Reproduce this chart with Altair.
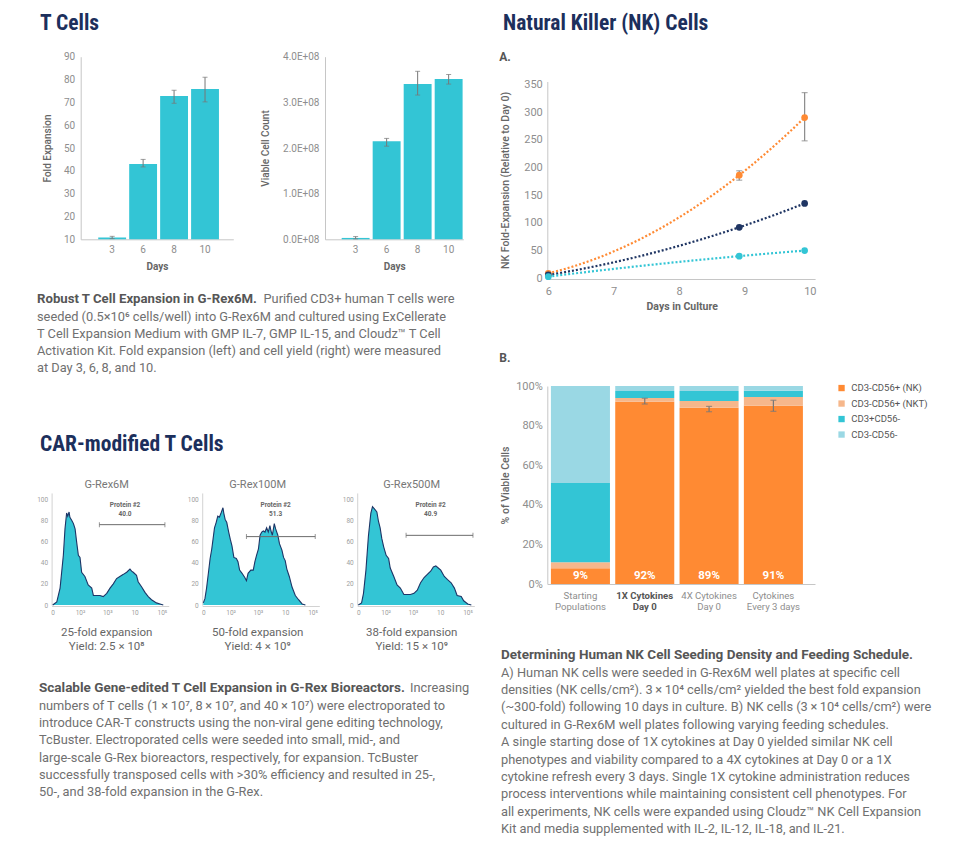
import altair as alt
import pandas as pd

W, H = 962, 833
FONT = "Roboto"
HEAD = "'Roboto Condensed', 'Liberation Sans Narrow', Roboto"

TEAL = "#33c5d5"
NAVY = "#1f3563"
HNAVY = "#1d3566"
ORANGE = "#ff8a33"
LORANGE = "#f6b78b"
LBLUE = "#9ad8e4"
TITLE_C = "#1c2f5c"
ERR = "#777777"
DOMAIN = "#c6c6c6"
LAB = "#8e8e8e"
AXT = "#666666"
CAP = "#707070"
CAPB = "#565656"
TS = "\u2009"

# ---------------- data ----------------
days = ["3", "6", "8", "10"]
fold = [10.8, 43.0, 72.8, 75.9]
fold_lo = [10.3, 41.7, 69.6, 70.2]
fold_hi = [11.3, 45.0, 75.3, 81.0]
cells = [0.03e8, 2.15e8, 3.40e8, 3.51e8]
cells_lo = [0.01e8, 2.04e8, 3.16e8, 3.40e8]
cells_hi = [0.06e8, 2.21e8, 3.68e8, 3.61e8]

hist_ticks = ["0", "10²", "10³", "10", "10⁵"]
h1_u = [0.00, 0.15, 0.27, 0.39, 0.45, 0.51, 0.55, 0.60, 0.63, 0.70, 0.76, 0.82, 0.88, 0.94,
        1.00, 1.06, 1.18, 1.30, 1.43, 1.49, 1.61, 1.73, 1.85, 1.98, 2.10, 2.22, 2.34, 2.46,
        2.59, 2.71, 2.83, 2.89, 2.95, 3.07, 3.13, 3.26, 3.38, 3.50, 3.62, 3.80, 3.93, 4.05]
h1_y = [0, 3, 16, 47, 72, 87, 84, 88, 83, 80, 77, 72, 59, 47, 45, 31, 27, 19, 16, 9, 9, 9, 8,
        11, 16, 20, 25, 27, 29, 31, 34, 32, 31, 28, 22, 17, 12, 8, 5, 2, 1, 0]
h2_u = [0, 0.06, 0.12, 0.19, 0.25, 0.31, 0.41, 0.47, 0.53, 0.59, 0.65, 0.72, 0.75, 0.80, 0.86,
        0.93, 0.99, 1.05, 1.12, 1.21, 1.27, 1.33, 1.42, 1.52, 1.58, 1.64, 1.74, 1.83, 1.89, 1.95,
        2.02, 2.08, 2.14, 2.20, 2.26, 2.32, 2.38, 2.44, 2.48, 2.53, 2.60, 2.65, 2.73, 2.79, 2.88,
        2.94, 3.00, 3.06, 3.15, 3.25, 3.37, 3.49, 3.62, 3.74]
h2_y = [2, 6, 16, 31, 44, 53, 73, 78, 84, 83, 87, 92, 87, 81, 78, 69, 62, 56, 45, 44, 41, 33, 30,
        26, 23, 30, 33, 33, 41, 47, 53, 66, 69, 70, 69, 73, 69, 75, 70, 66, 77, 72, 66, 58, 52,
        45, 42, 34, 27, 17, 9, 5, 1, 0]
h3_u = [0, 0.12, 0.19, 0.28, 0.37, 0.46, 0.52, 0.59, 0.68, 0.74, 0.80, 0.86, 0.93, 1.02, 1.11,
        1.17, 1.30, 1.42, 1.54, 1.67, 1.79, 1.91, 2.04, 2.16, 2.28, 2.41, 2.53, 2.65, 2.75, 2.84,
        2.93, 3.02, 3.15, 3.27, 3.40, 3.52, 3.62, 3.77, 3.86, 4.01, 4.14]
h3_y = [0, 2, 11, 33, 65, 87, 93, 91, 88, 79, 73, 63, 55, 47, 44, 35, 27, 19, 16, 10, 10, 10,
        11, 14, 21, 26, 29, 32, 36, 37, 35, 33, 27, 24, 21, 16, 9, 8, 4, 1, 0]
gates = [(1.71, 4.11, 76.0), (1.58, 4.10, 64.7), (1.75, 4.20, 65.9)]
gate_pct = ["40.0", "51.3", "40.9"]
reactors = ["G-Rex6M", "G-Rex100M", "G-Rex500M"]
fold_caps = ["25-fold expansion", "50-fold expansion", "38-fold expansion"]
yield_caps = ["Yield: 2.5 × 10⁸", "Yield: 4 × 10⁹", "Yield: 15 × 10⁹"]

nk_series = ["30,000 NK cells/cm²", "60,000 NK cells/cm²", "120,000 NK cells/cm²"]
nk_days = [6, 8.92, 9.92]
nk_30 = [9, 186, 290]
nk_60 = [6, 92, 135]
nk_120 = [3, 40, 50]
nk_err_days = [8.92, 9.92]
nk_err_lo = [177, 248]
nk_err_hi = [194, 335]

feed = ["Starting|Populations", "1X Cytokines|Day 0", "4X Cytokines|Day 0", "Cytokines|Every 3 days"]
pops = ["CD3-CD56+ (NK)", "CD3-CD56+ (NKT)", "CD3+CD56-", "CD3-CD56-"]
pop_nk = [8, 92, 89, 90]
pop_nkt = [3, 2, 3.4, 4.5]
pop_cd3 = [40, 3.5, 5.1, 3.1]
pop_dn = [49, 2.5, 2.5, 2.4]
feed_pct = ["9%", "92%", "89%", "91%"]
feed_err_lo = [90.9, 87.0, 87.2]
feed_err_hi = [93.8, 89.7, 92.8]

cap1_bold = "Robust T Cell Expansion in G-Rex6M."
cap1_first = "Purified CD3+ human T cells were"
cap1_rest = [
    "seeded (0.5×10⁶ cells/well) into G-Rex6M and cultured using ExCellerate",
    "T Cell Expansion Medium with GMP IL-7, GMP IL-15, and Cloudz™ T Cell",
    "Activation Kit. Fold expansion (left) and cell yield (right) were measured",
    "at Day 3, 6, 8, and 10.",
]
cap2_bold = "Scalable Gene-edited T Cell Expansion in G-Rex Bioreactors."
cap2_first = "Increasing"
cap2_rest = [
    f"numbers of T cells (1{TS}×{TS}10⁷, 8{TS}×{TS}10⁷, and 40{TS}×{TS}10⁷) were electroporated to",
    "introduce CAR-T constructs using the non-viral gene editing technology,",
    "TcBuster. Electroporated cells were seeded into small, mid-, and",
    "large-scale G-Rex bioreactors, respectively, for expansion. TcBuster",
    "successfully transposed cells with >30% efficiency and resulted in 25-,",
    "50-, and 38-fold expansion in the G-Rex.",
]
cap3_bold = "Determining Human NK Cell Seeding Density and Feeding Schedule."
cap3_rest = [
    "A) Human NK cells were seeded in G-Rex6M well plates at specific cell",
    f"densities (NK cells/cm²). 3{TS}×{TS}10⁴ cells/cm² yielded the best fold expansion",
    f"(~300-fold) following 10 days in culture. B) NK cells (3{TS}×{TS}10⁴ cells/cm²) were",
    "cultured in G-Rex6M well plates following varying feeding schedules.",
    "A single starting dose of 1X cytokines at Day 0 yielded similar NK cell",
    "phenotypes and viability compared to a 4X cytokines at Day 0 or a 1X",
    "cytokine refresh every 3 days. Single 1X cytokine administration reduces",
    "process interventions while maintaining consistent cell phenotypes. For",
    "all experiments, NK cells were expanded using Cloudz™ NK Cell Expansion",
    "Kit and media supplemented with IL-2, IL-12, IL-18, and IL-21.",
]

BODY = 12.8
BOLD = 13.5


# ---------------- helpers ----------------
def axis(orient, offset, **kw):
    d = dict(orient=orient, offset=offset, grid=False, ticks=False, tickSize=0,
             domainColor=DOMAIN, domainWidth=1, labelColor=LAB, labelFont=FONT,
             labelFontSize=10, labelFlush=False, labelOverlap=False,
             titleFont=FONT, titleColor=AXT, titleFontSize=10, titleFontWeight=500)
    d.update(kw)
    return alt.Axis(**d)


def text(t, x, y, size=BODY, weight="normal", color=CAP, font=FONT,
         align="left", baseline="alphabetic", lh=None):
    kw = dict(align=align, baseline=baseline, font=font, fontSize=size,
              fontWeight=weight, color=color)
    if lh is not None:
        kw["lineHeight"] = lh
    return alt.Chart(alt.Data(values=[{"k": 1}])).mark_text(**kw).encode(
        x=alt.value(x), y=alt.value(y), text=alt.value(t))


def tcell_bar(vals, lo, hi, xr, po, al, ydom, yr, ya):
    df = pd.DataFrame({"day": days, "v": vals, "lo": lo, "hi": hi})
    xs = alt.Scale(domain=days, range=xr, paddingInner=0.1, paddingOuter=po, align=al)
    ys = alt.Scale(domain=ydom, range=yr, nice=False, zero=False)
    xa = axis("bottom", yr[0] - H, title="Days", labelAngle=0, labelPadding=5,
              titleY=27.4, titleBaseline="middle", titleFontWeight="bold")
    X = alt.X("day:N", scale=xs, axis=xa)
    base = alt.Chart(df)
    bars = base.mark_bar(color=TEAL).encode(
        x=X, y=alt.Y("v:Q", scale=ys, axis=ya), y2=alt.datum(ydom[0]))
    err = base.mark_rule(color=ERR, strokeWidth=1).encode(
        x=X, y=alt.Y("lo:Q", scale=ys, axis=ya), y2="hi:Q")
    clo = base.mark_tick(color=ERR, size=5, thickness=1).encode(
        x=X, y=alt.Y("lo:Q", scale=ys, axis=ya))
    chi = base.mark_tick(color=ERR, size=5, thickness=1).encode(
        x=X, y=alt.Y("hi:Q", scale=ys, axis=ya))
    return alt.layer(bars, err, clo, chi)


K = 27.3


def hist(u, y, x0, gate, pct):
    xs = alt.Scale(domain=[-0.04, 4.25], range=[x0 - 0.04 * K, x0 + 4.25 * K], nice=False, zero=False)
    ys = alt.Scale(domain=[0, 106], range=[597, 597 - 106 * 1.057], nice=False)
    lab_expr = "[" + ",".join("'%s'" % s for s in hist_ticks) + "][datum.value]"
    xa = axis("bottom", -235, values=[0, 1, 2, 3, 4], labelExpr=lab_expr, labelFontSize=6.5,
              labelPadding=3, title=None, domainColor="#d2d2d2", labelColor="#a0a0a0")
    ya = axis("left", -(x0 - 0.04 * K), values=[0, 20, 40, 60, 80, 100], labelFontSize=6.5,
              labelPadding=4, title=None, domainColor="#d2d2d2", labelColor="#a0a0a0")
    df = pd.DataFrame({"u": u, "y": y})
    area = alt.Chart(df).mark_area(color=TEAL, opacity=1,
                                   line={"color": HNAVY, "strokeWidth": 1.1}).encode(
        x=alt.X("u:Q", scale=xs, axis=xa), y=alt.Y("y:Q", scale=ys, axis=ya))
    g = pd.DataFrame({"u1": [gate[0]], "u2": [gate[1]], "gy": [gate[2]]})
    gb = alt.Chart(g)
    GY = alt.Y("gy:Q", scale=ys, axis=ya)
    rule = gb.mark_rule(color="#6b6b6b", strokeWidth=1).encode(
        x=alt.X("u1:Q", scale=xs, axis=xa), x2="u2:Q", y=GY)
    t1 = gb.mark_tick(orient="vertical", size=5, thickness=1, color="#6b6b6b").encode(
        x=alt.X("u1:Q", scale=xs, axis=xa), y=GY)
    t2 = gb.mark_tick(orient="vertical", size=5, thickness=1, color="#6b6b6b").encode(
        x=alt.X("u2:Q", scale=xs, axis=xa), y=GY)
    lt = pd.DataFrame({"u": [2.65, 2.65], "ty": [94.6, 85.8], "t": ["Protein #2", pct]})
    lab = alt.Chart(lt).mark_text(font=FONT, fontSize=6.5, fontWeight="bold", color="#666").encode(
        x=alt.X("u:Q", scale=xs, axis=xa), y=alt.Y("ty:Q", scale=ys, axis=ya), text="t:N")
    return alt.layer(area, rule, t1, t2, lab)


# ---------------- T cell bars ----------------
ya1 = axis("left", -72.7, values=list(range(10, 91, 10)), title="Fold Expansion", labelPadding=6,
           titleX=-32.7, titleBaseline="middle", titleAlign="center")
bar1 = tcell_bar(fold, fold_lo, fold_hi, [72.7, 225.3], 0.515, 0.55, [10, 90], [231.3, 48.7], ya1)
ya2 = axis("left", -317, values=[0, 1e8, 2e8, 3e8, 4e8],
           labelExpr="format(datum.value/1e8, '.1f') + 'E+08'", title="Viable Cell Count",
           labelPadding=6, titleX=-60, titleBaseline="middle", titleAlign="center")
bar2 = tcell_bar(cells, cells_lo, cells_hi, [317, 455.3], 0.28, 0.96, [0, 4e8], [231.3, 48.7], ya2)

# ---------------- histograms ----------------
hx0 = [44.7, 195.3, 350.3]
hcx = [98.7, 249.7, 403.7]
hists = [hist(h1_u, h1_y, hx0[0], gates[0], gate_pct[0]),
         hist(h2_u, h2_y, hx0[1], gates[1], gate_pct[1]),
         hist(h3_u, h3_y, hx0[2], gates[2], gate_pct[2])]
hist_text = []
for i in range(3):
    hist_text.append(text(reactors[i], hcx[i], 477, size=11, color="#777", align="center", baseline="middle"))
    hist_text.append(text(fold_caps[i], hcx[i], 625.3, size=11.5, color="#666", align="center", baseline="middle"))
    hist_text.append(text(yield_caps[i], hcx[i], 639.3, size=11.5, color="#666", align="center", baseline="middle"))

# ---------------- NK line chart ----------------
nk_rows = []
for s, vals in zip(nk_series, [nk_30, nk_60, nk_120]):
    for d, v in zip(nk_days, vals):
        nk_rows.append({"series": s, "day": d, "value": v})
nk_df = pd.DataFrame(nk_rows)
nk_err = pd.DataFrame({"day": nk_err_days, "lo": nk_err_lo, "hi": nk_err_hi})
xsA = alt.Scale(domain=[6, 10.08], range=[540.3, 807.1], nice=False, zero=False)
ysA = alt.Scale(domain=[0, 355], range=[270.3, 270.3 - 355 * 194 / 350], nice=False)
cA = alt.Scale(domain=nk_series, range=[ORANGE, NAVY, TEAL])
xaA = axis("bottom", -562, values=[6, 7, 8, 9, 10], title="Days in Culture", labelFontSize=11,
           labelPadding=6, titleY=27.7, titleBaseline="middle", titleFontWeight="bold",
           titleFontSize=10.5)
yaA = axis("left", -539.3, values=list(range(0, 351, 50)),
           title="NK Fold-Expansion (Relative to Day 0)", labelFontSize=11, labelPadding=5,
           titleX=-42.3, titleBaseline="middle", titleAlign="center", titleFontSize=10.5)
XA = alt.X("day:Q", scale=xsA, axis=xaA)
lines = alt.Chart(nk_df).transform_regression(
    "day", "value", groupby=["series"], method="poly", order=2, extent=[6, 9.92]
).mark_line(strokeDash=[2, 2], strokeWidth=2.2).encode(
    x=XA, y=alt.Y("value:Q", scale=ysA, axis=yaA),
    stroke=alt.Stroke("series:N", scale=cA, legend=None))
errA = alt.Chart(nk_err).mark_rule(color="#8a8a8a", strokeWidth=1.2).encode(
    x=XA, y=alt.Y("lo:Q", scale=ysA, axis=yaA), y2="hi:Q")
errA1 = alt.Chart(nk_err).mark_tick(orient="horizontal", color="#8a8a8a", size=6, thickness=1.2).encode(
    x=XA, y=alt.Y("lo:Q", scale=ysA, axis=yaA))
errA2 = alt.Chart(nk_err).mark_tick(orient="horizontal", color="#8a8a8a", size=6, thickness=1.2).encode(
    x=XA, y=alt.Y("hi:Q", scale=ysA, axis=yaA))
pts = alt.Chart(nk_df).mark_circle(size=45, opacity=1).encode(
    x=XA, y=alt.Y("value:Q", scale=ysA, axis=yaA),
    color=alt.Color("series:N", scale=cA, legend=alt.Legend(
        orient="none", legendX=829.1, legendY=74.7, title=None, symbolType="circle",
        symbolSize=40, labelFont=FONT, labelFontSize=9.5, labelColor="#555",
        rowPadding=4, labelOffset=5, padding=0)))
lineA = alt.layer(lines, errA, errA1, errA2, pts)

# ---------------- NK stacked bars ----------------
b_rows = []
for ci, c in enumerate(feed):
    for pi, (p, arr) in enumerate(zip(pops, [pop_nk, pop_nkt, pop_cd3, pop_dn])):
        b_rows.append({"cat": c, "pop": p, "v": arr[ci], "o": pi})
b_df = pd.DataFrame(b_rows)
b_err = pd.DataFrame({"cat": feed[1:], "lo": feed_err_lo, "hi": feed_err_hi})
b_lab = pd.DataFrame({"cat": feed, "t": feed_pct})
xsB = alt.Scale(domain=feed, range=[539.3, 807], paddingInner=0.082, paddingOuter=0.122, align=0.23)
ysB = alt.Scale(domain=[0, 100], range=[576, 378], nice=False)
xaB = axis("bottom", 576 - H, labelExpr="split(datum.value, '|')", labelFontSize=9.6,
           labelLineHeight=11, labelPadding=6.5, labelAngle=0, title=None, labelLimit=70,
           labelFontWeight={"condition": {"test": "datum.value == '1X Cytokines|Day 0'", "value": "bold"}, "value": "normal"},
           labelColor={"condition": {"test": "datum.value == '1X Cytokines|Day 0'", "value": "#555555"}, "value": LAB})
yaB = axis("left", -539.3, values=[0, 20, 40, 60, 80, 100], labelExpr="datum.value + '%'",
           title="% of Viable Cells", labelFontSize=11, labelPadding=5, titleX=-42.3,
           titleBaseline="middle", titleAlign="center", titleFontSize=10.5)
XB = alt.X("cat:N", scale=xsB, axis=xaB)
barsB = alt.Chart(b_df).mark_bar().encode(
    x=XB,
    y=alt.Y("v:Q", stack="zero", scale=ysB, axis=yaB),
    color=alt.Color("pop:N", scale=alt.Scale(domain=pops, range=[ORANGE, LORANGE, TEAL, LBLUE]),
                    legend=alt.Legend(orient="none", legendX=828.8, legendY=375.3, title=None,
                                      symbolType="square", symbolSize=40, labelFont=FONT,
                                      labelFontSize=9.5, labelColor="#555", rowPadding=4.5,
                                      labelOffset=5, padding=0)),
    order=alt.Order("o:Q"))
errB = alt.Chart(b_err).mark_rule(color="#777", strokeWidth=1.2).encode(
    x=XB, y=alt.Y("lo:Q", scale=ysB, axis=yaB), y2="hi:Q")
errB1 = alt.Chart(b_err).mark_tick(color="#777", size=6, thickness=1.2).encode(
    x=XB, y=alt.Y("lo:Q", scale=ysB, axis=yaB))
errB2 = alt.Chart(b_err).mark_tick(color="#777", size=6, thickness=1.2).encode(
    x=XB, y=alt.Y("hi:Q", scale=ysB, axis=yaB))
labB = alt.Chart(b_lab).mark_text(font=FONT, fontSize=11.5, fontWeight="bold", color="white",
                                  baseline="middle").encode(
    x=XB, y=alt.value(568), text="t:N")
barB = alt.layer(barsB, errB, errB1, errB2, labB)

# ---------------- texts ----------------
texts = [
    text("T Cells", 32, 21.5, size=21.5, weight="bold", color=TITLE_C, font=HEAD),
    text("Natural Killer (NK) Cells", 495, 21.5, size=21.5, weight="bold", color=TITLE_C, font=HEAD),
    text("CAR-modified T Cells", 32, 442.5, size=21.5, weight="bold", color=TITLE_C, font=HEAD),
    text("A.", 491.3, 53, size=12, weight="bold", color="#555"),
    text("B.", 491.3, 354, size=12, weight="bold", color="#555"),
    text(cap1_bold, 29, 295.3, size=13.2, weight="bold", color=CAPB),
    text(cap1_first, 255.5, 295.3),
    text(cap1_rest, 29, 312.6, lh=17.3),
    text(cap2_bold, 31, 684.3, size=BOLD, weight="bold", color=CAPB),
    text(cap2_first, 402, 684.3),
    text(cap2_rest, 31, 701.7, lh=17.35),
    text(cap3_bold, 493, 651, size=BOLD, weight="bold", color=CAPB),
    text(cap3_rest, 493, 668.7, lh=17.4),
]

chart = alt.layer(
    bar1, bar2, *hists, lineA, barB, *hist_text, *texts
).properties(
    width=W, height=H, padding=0, autosize=alt.AutoSizeParams(type="none")
).resolve_scale(
    x="independent", y="independent", color="independent", stroke="independent"
).resolve_axis(
    x="independent", y="independent"
).resolve_legend(
    color="independent"
).configure_view(strokeWidth=0)

chart.save("out.html", embed_options={"renderer": "svg", "actions": False})
